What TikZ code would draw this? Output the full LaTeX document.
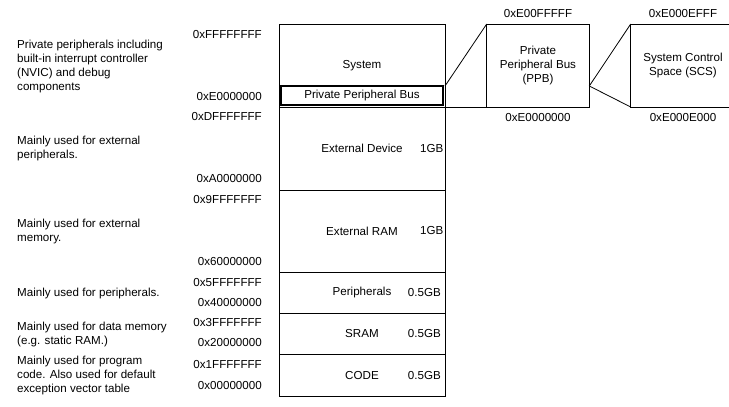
\documentclass[tikz,border=0pt]{standalone}
\usepackage{fontspec}
\setmainfont{Liberation Sans}
\usepackage{tikz}
\usetikzlibrary{positioning}
\tikzset{memfont/.style={font=\fontsize{11.6}{14}\selectfont}}
\tikzset{membox/.style={draw,line width=0.8pt,minimum width=166pt,minimum height=#1,inner sep=0pt,outer sep=0pt,memfont}}
\tikzset{ppbinbox/.style={draw,line width=1.3pt,minimum width=162pt,minimum height=19pt,inner sep=0pt,outer sep=0pt,memfont}}
\tikzset{zoombox/.style={draw,line width=0.8pt,minimum width=102.6pt,minimum height=83pt,inner sep=0pt,outer sep=0pt,align=center,memfont}}
\tikzset{addrlabel/.style={anchor=east,inner sep=1pt,memfont}}
\tikzset{desclabel/.style={anchor=west,align=left,inner sep=1pt,memfont}}
\tikzset{sizelabel/.style={inner sep=0pt,memfont}}

\begin{document}
\begin{tikzpicture}[x=1pt,y=-1pt]
		\useasboundingbox (0,0) rectangle (729,407);
		%
		\node[membox=83pt] (sys) at (362,65.5) {System};
		\node[membox=83pt,below=0pt of sys] (extdev) {External Device};
		\node[membox=82pt,below=0pt of extdev] (extram) {External RAM};
		\node[membox=41.5pt,below=0pt of extram] (periph) {Peripherals};
		\node[membox=41pt,below=0pt of periph] (sram) {SRAM};
		\node[membox=41.5pt,below=0pt of sram] (code) {CODE};
		\node[ppbinbox] (ppbin) at (362,95.5) {Private Peripheral Bus};
		%
		\node[sizelabel,left=1.5pt of extdev.east] (devsize) {1GB};
		\node[sizelabel,left=1.5pt of extram.east] (ramsize) {1GB};
		\node[sizelabel,left=4pt of periph.east] (periphsize) {0.5GB};
		\node[sizelabel,left=4pt of sram.east] (sramsize) {0.5GB};
		\node[sizelabel,left=4pt of code.east] (codesize) {0.5GB};
		%
		\node[zoombox] (ppb) at (538,65.5) {Private\\Peripheral Bus\\(PPB)};
		\node[zoombox,draw=none,minimum width=104.6pt] (scs) at (683,65.5) {System Control\\Space (SCS)};
		\draw[line width=0.8pt] (scs.north east) -- (scs.north west) -- (scs.south west) -- (scs.south east);
		\node[sizelabel,inner sep=1pt,above=5pt of ppb] (ppbtop) {0xE00FFFFF};
		\node[sizelabel,inner sep=1pt,below=5pt of ppb] (ppbbot) {0xE0000000};
		\node[sizelabel,inner sep=1pt,above=5pt of scs] (scstop) {0xE000EFFF};
		\node[sizelabel,inner sep=1pt,below=5pt of scs] (scsbot) {0xE000E000};
		%
		\draw[line width=0.8pt] (sys.east |- ppbin.north) -- (ppb.north west);
		\draw[line width=0.8pt] (sys.south east) -- (ppb.south west);
		\draw[line width=0.8pt] (ppb.east |- ppbin.north) -- (scs.north west);
		\draw[line width=0.8pt] (ppb.east |- ppbin.north) -- (scs.south west);
		%
		\node[addrlabel] (a1) at (263,35) {0xFFFFFFFF};
		\node[addrlabel] (a2) at (263,97) {0xE0000000};
		\node[addrlabel] (a3) at (263,117) {0xDFFFFFFF};
		\node[addrlabel] (a4) at (263,179) {0xA0000000};
		\node[addrlabel] (a5) at (263,200) {0x9FFFFFFF};
		\node[addrlabel] (a6) at (263,262) {0x60000000};
		\node[addrlabel] (a7) at (263,283) {0x5FFFFFFF};
		\node[addrlabel] (a8) at (263,303) {0x40000000};
		\node[addrlabel] (a9) at (263,323) {0x3FFFFFFF};
		\node[addrlabel] (a10) at (263,343) {0x20000000};
		\node[addrlabel] (a11) at (263,365) {0x1FFFFFFF};
		\node[addrlabel] (a12) at (263,386) {0x00000000};
		%
		\node[desclabel] (d1) at (16,66) {Private peripherals including\\built-in interrupt controller\\(NVIC) and debug\\components};
		\node[desclabel] (d2) at (16,148) {Mainly used for external\\peripherals.};
		\node[desclabel] (d3) at (16,231) {Mainly used for external\\memory.};
		\node[desclabel] (d4) at (16,293) {Mainly used for peripherals.};
		\node[desclabel] (d5) at (16,334) {Mainly used for data memory\\(e.g. static RAM.)};
		\node[desclabel] (d6) at (16,375) {Mainly used for program\\code. Also used for default\\exception vector table};
	\end{tikzpicture}
\end{document}
